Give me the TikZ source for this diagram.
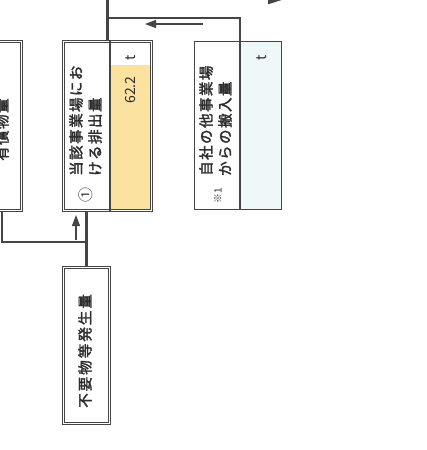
\documentclass[tikz,border=0pt]{standalone}
\usepackage{fontspec}
\newfontfamily\jp{Noto Sans CJK JP}
\newfontfamily\jpb{Noto Sans CJK JP}[FakeBold=2.2]
\usetikzlibrary{arrows.meta,backgrounds}
\definecolor{ln}{HTML}{454545}
\definecolor{yel}{HTML}{FBE2A0}
\definecolor{cy}{HTML}{EEF8F8}
\definecolor{tx}{HTML}{2E2E2E}
\begin{document}
\begin{tikzpicture}[x=1pt,y=-1pt,
 dbl/.style={draw=ln, line width=1.1pt, double=white, double distance=1.6pt, inner sep=0pt},
 sgl/.style={draw=ln, line width=1.4pt, inner sep=0pt},
 conn/.style={draw=ln, line width=2.8pt},
 ind/.style={draw=ln, line width=1.3pt, -{Triangle[length=11pt,width=8pt]}},
 divl/.style={draw=ln, line width=1.2pt},
 vt/.style={rotate=90, font=\jpb\fontsize{14.5}{19}\selectfont\addfontfeature{LetterSpace=10}, text=tx, inner sep=0pt, align=left},
 sm/.style={rotate=90, font=\jp\fontsize{14}{16}\selectfont, text=tx, inner sep=0pt},
]
\useasboundingbox (0,0) rectangle (426,450);
\clip (0,0) rectangle (426,450);

% boxes
\node[dbl, minimum width=88pt, minimum height=169pt] (b1) at (107.5,126) {};
\node[dbl, minimum width=51pt, minimum height=169pt] (b0) at (-4,126) {};
\node[dbl, minimum width=46pt, minimum height=156pt] (b3) at (86.5,345.5) {};
\node[sgl, minimum width=87pt, minimum height=168pt] (b2) at (238,125.5) {};

\begin{scope}[on background layer]
  \fill[white] (0,0) rectangle (426,450);
  \fill[yel] (110.6,65) rectangle (149.6,209.2);
  \fill[cy] (240.7,42.3) rectangle (281,208.8);
\end{scope}

% dividers
\draw[divl] ([xshift=2.5pt]b1.north) -- ([xshift=2.5pt]b1.south);
\draw[divl] ([xshift=2pt]b2.north) -- ([xshift=2pt]b2.south);

% texts
\node[vt, anchor=west] (t1) at (85.5,176) {当該事業場にお\\ける排出量};
\node[sm, font=\jp\fontsize{15}{17}\selectfont] (n1) at (86,195) {①};
\node[sm] (v1) at (131,90) {62.2};
\node[sm] (u1) at (131,58) {t};
\node[vt, anchor=west] (t2) at (215.5,176) {自社の他事業場\\からの搬入量};
\node[sm, font=\jp\fontsize{10}{12}\selectfont] (s1) at (218,196) {※1};
\node[sm] (u2) at (262,58) {t};
\node[vt, anchor=west, font=\jpb\fontsize{14.5}{19}\selectfont\addfontfeature{LetterSpace=14}] (t3) at (85,408) {不要物等発生量};
\node[vt, anchor=west] (t0) at (2,161) {有償物量};

% connectors
\coordinate (top) at (107.5,-5);
\coordinate (j1) at (107.5,18);
\coordinate (j2) at (86.5,242);
\draw[conn] (b1.north) -- (top);
\draw[conn, line join=miter] (j1) -| ([xshift=2pt]b2.north);
\draw[conn] (b3.north) -- (b3.north |- b1.south);
\draw[conn, line join=miter] ([xshift=6pt]b0.south) |- (j2);

% indicator arrows
\coordinate (a1s) at (203,24); \coordinate (a1e) at (145,24);
\draw[ind] (a1s) -- (a1e);
\coordinate (a2s) at (76,240); \coordinate (a2e) at (76,215);
\draw[ind] (a2s) -- (a2e);
\coordinate (a3s) at (232,-2); \coordinate (a3e) at (288,-2);
\draw[ln, line width=2.6pt, -{Triangle[length=20pt,width=12pt]}] (a3s) -- (a3e);
\end{tikzpicture}
\end{document}
